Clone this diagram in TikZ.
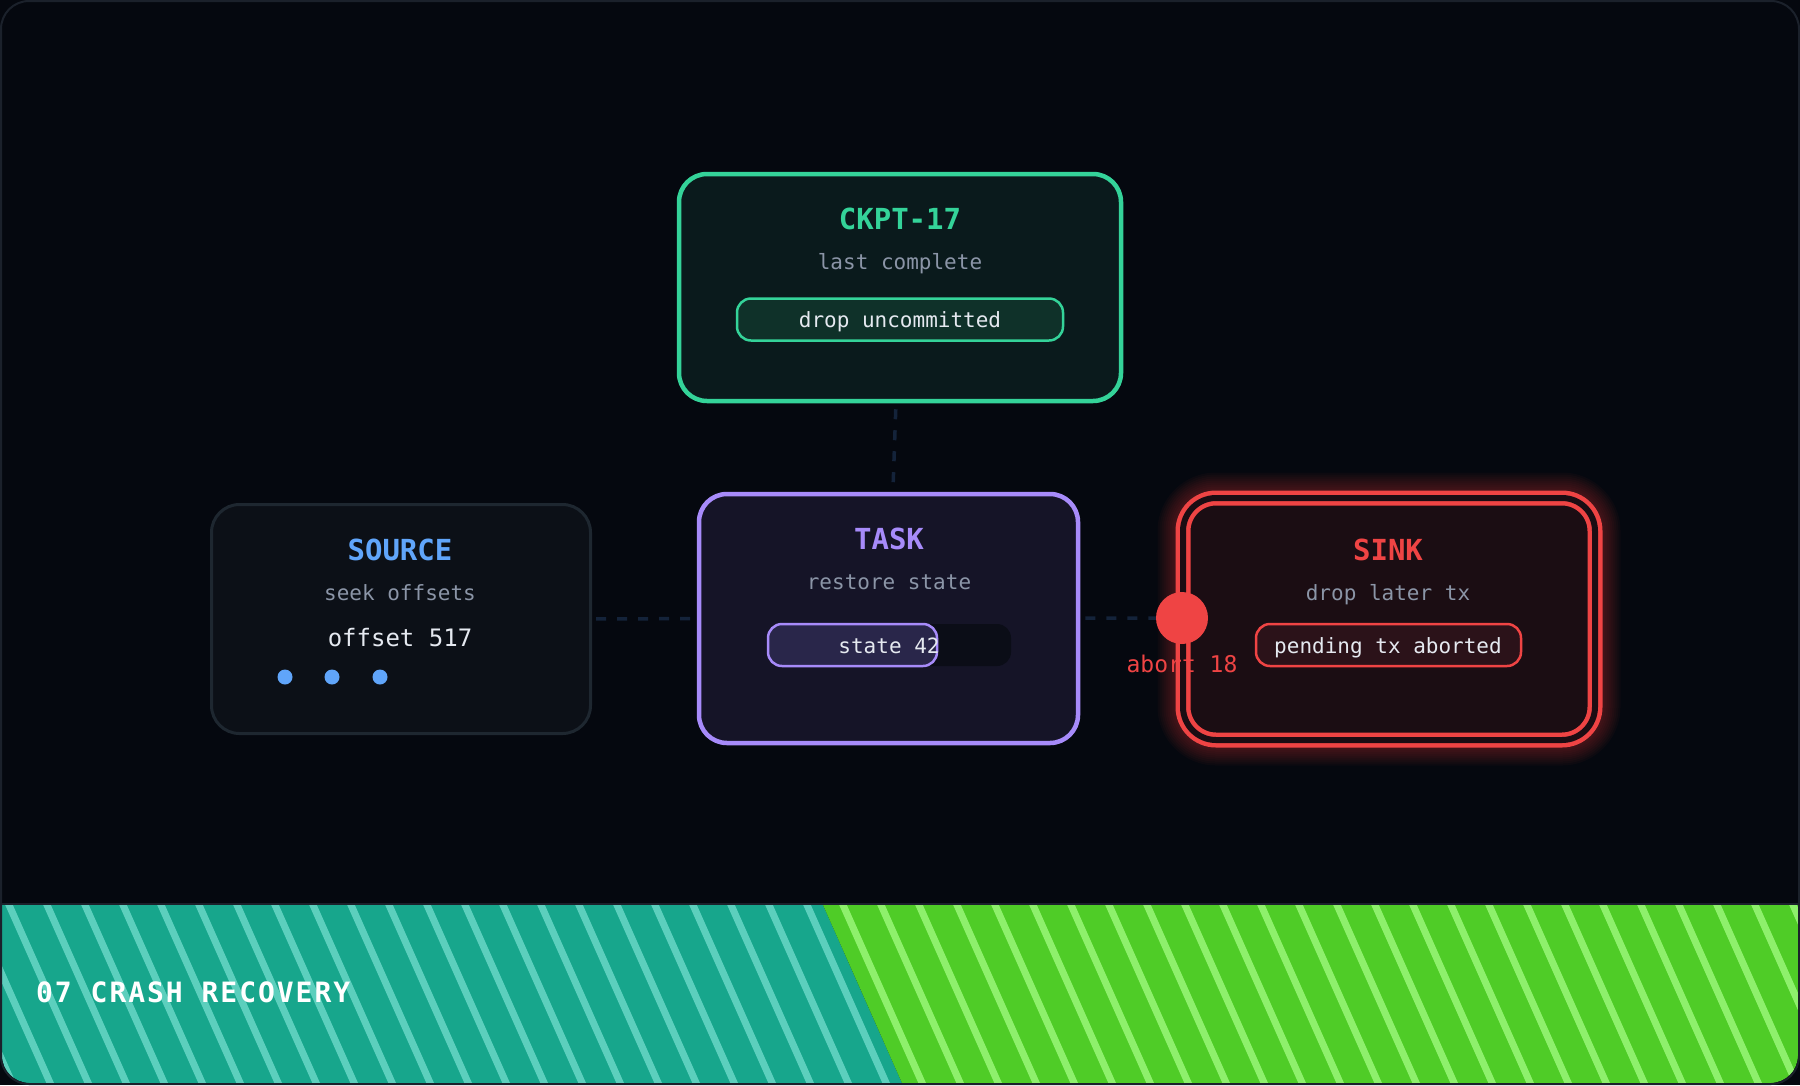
\documentclass[tikz,border=0pt]{standalone}
\usepackage{fontspec}
\setmainfont{DejaVu Sans Mono}
\newfontfamily\footfont[LetterSpace=7]{DejaVu Sans Mono}
\definecolor{bgc}{HTML}{05080F}
\definecolor{framec}{HTML}{1B212B}
\definecolor{subc}{HTML}{8B95A7}
\definecolor{txtc}{HTML}{E5E9F0}
\definecolor{linkc}{HTML}{14233A}
\definecolor{greenc}{HTML}{34D399}
\definecolor{ckptfill}{HTML}{0A1A1C}
\definecolor{ckptpill}{HTML}{0F3129}
\definecolor{bluec}{HTML}{60A5FA}
\definecolor{srcfill}{HTML}{0C1017}
\definecolor{srcline}{HTML}{1E2730}
\definecolor{purplec}{HTML}{A78BFA}
\definecolor{taskfill}{HTML}{151427}
\definecolor{trackc}{HTML}{0B0D17}
\definecolor{barc}{HTML}{29264A}
\definecolor{redc}{HTML}{EF4444}
\definecolor{sinkfill}{HTML}{1B0D13}
\definecolor{sinkpill}{HTML}{2B1219}
\definecolor{tealc}{HTML}{17A68C}
\definecolor{teallt}{HTML}{5CCFBD}
\definecolor{limec}{HTML}{4FCC27}
\definecolor{limelt}{HTML}{8EF06C}
\begin{document}
\begin{tikzpicture}[x=1pt,y=-1pt,
    box/.style={rounded corners=28pt, inner sep=0pt},
    pill/.style={rounded corners=14pt, minimum height=42pt, inner sep=0pt, line width=2.5pt},
    ttl/.style={anchor=base, font=\fontsize{29}{34}\selectfont\bfseries},
    sub/.style={anchor=base, text=subc, font=\fontsize{21}{25}\selectfont},
    txt/.style={anchor=base, text=txtc, font=\fontsize{21}{25}\selectfont},
    link/.style={draw=linkc, line width=3.5pt, dash pattern=on 10pt off 11pt}]
    \useasboundingbox (0,0) rectangle (1800,1085);
    \fill[bgc] (0,0) rectangle (1800,1085);

    \begin{scope}
        \clip (2,905) rectangle (1798,1083);
        \clip[rounded corners=28pt] (2,800) rectangle (1798,1083);
        \fill[tealc] (0,905) -- (823,905) -- (902,1083) -- (0,1083) -- cycle;
        \fill[limec] (823,905) -- (1800,905) -- (1800,1083) -- (902,1083) -- cycle;
        \begin{scope}
            \clip (0,905) -- (823,905) -- (902,1083) -- (0,1083) -- cycle;
            \foreach \i in {-3,...,23}
                \draw[teallt, line width=7pt] ({9+38*\i-4.4},895) -- ++(88,198);
        \end{scope}
        \begin{scope}
            \clip (823,905) -- (1800,905) -- (1800,1083) -- (902,1083) -- cycle;
            \foreach \i in {-3,...,26}
                \draw[limelt, line width=7pt] ({843+38*\i-4.4},895) -- ++(88,198);
        \end{scope}
    \end{scope}
    \draw[framec, line width=2pt] (0,904) -- (1800,904);
    \draw[framec, line width=2pt, rounded corners=28pt] (1,1) rectangle (1799,1084);
    \node[anchor=base west, text=white, font=\footfont\fontsize{28}{33}\selectfont\bfseries, inner sep=0pt]
        (footer) at (36,1002) {07 CRASH RECOVERY};

    \foreach \g in {1,...,9}
        \draw[redc, opacity=0.035, line width={(15+4*\g)*1pt}, rounded corners=33pt]
            (1183,498) rectangle (1595,740);

    \node[box, draw=greenc, line width=4.5pt, fill=ckptfill, minimum width=442pt, minimum height=227pt]
        (ckpt) at (900,287.5) {};
    \node[box, draw=srcline, line width=3pt, fill=srcfill, minimum width=379pt, minimum height=229pt]
        (src) at (401,619) {};
    \node[box, draw=purplec, line width=4.5pt, fill=taskfill, minimum width=379pt, minimum height=249pt]
        (task) at (888.5,618.5) {};
    \node[box, draw=redc, line width=4.5pt, double=sinkfill, double distance=6pt, fill=sinkfill,
        rounded corners=33pt, minimum width=412pt, minimum height=242pt]
        (sink) at (1389,619) {};

    \draw[link, shorten <=6pt, shorten >=6pt] (ckpt) -- (task);
    \draw[link, shorten <=4pt, shorten >=4pt] (src) -- (task);

    \node[ttl, text=greenc] (ckpttitle) at (900,229) {CKPT-17};
    \node[sub] (ckptsub) at (900,269) {last complete};
    \node[pill, draw=greenc, fill=ckptpill, minimum width=326pt] (ckptpill) at (900,319.5) {};
    \node[txt] (ckpttext) at (900,327) {drop uncommitted};

    \node[ttl, text=bluec] (srctitle) at (400,560) {SOURCE};
    \node[sub] (srcsub) at (400,600) {seek offsets};
    \node[anchor=base, text=txtc, font=\fontsize{24}{28}\selectfont] (offset) at (400,646) {offset 517};
    \foreach \x [count=\k] in {285,332,380}
        \fill[bluec] (\x,677) circle (7.5pt) coordinate (dot\k);

    \node[ttl, text=purplec] (tasktitle) at (889,549) {TASK};
    \node[sub] (tasksub) at (889,589) {restore state};
    \node[pill, fill=trackc, minimum width=243pt] (track) at (889.5,645) {};
    \node[pill, draw=purplec, fill=barc, minimum width=169pt] (bar) at (852.5,645) {};
    \node[txt] (state) at (889,653) {state 42};

    \node[ttl, text=redc] (sinktitle) at (1388,560) {SINK};
    \node[sub] (sinksub) at (1388,600) {drop later tx};
    \node[pill, draw=redc, fill=sinkpill, minimum width=265pt] (sinkpill) at (1388.5,645) {};
    \node[txt] (sinktext) at (1388,653) {pending tx aborted};

    \node[circle, fill=redc, minimum size=52pt, inner sep=0pt] (abort) at (1182,618) {};
    \draw[link, shorten <=5pt] (task) -- (abort);
    \node[anchor=base, text=redc, font=\fontsize{23}{27}\selectfont] (abortlabel) at (1182,672) {abort 18};
\end{tikzpicture}
\end{document}
